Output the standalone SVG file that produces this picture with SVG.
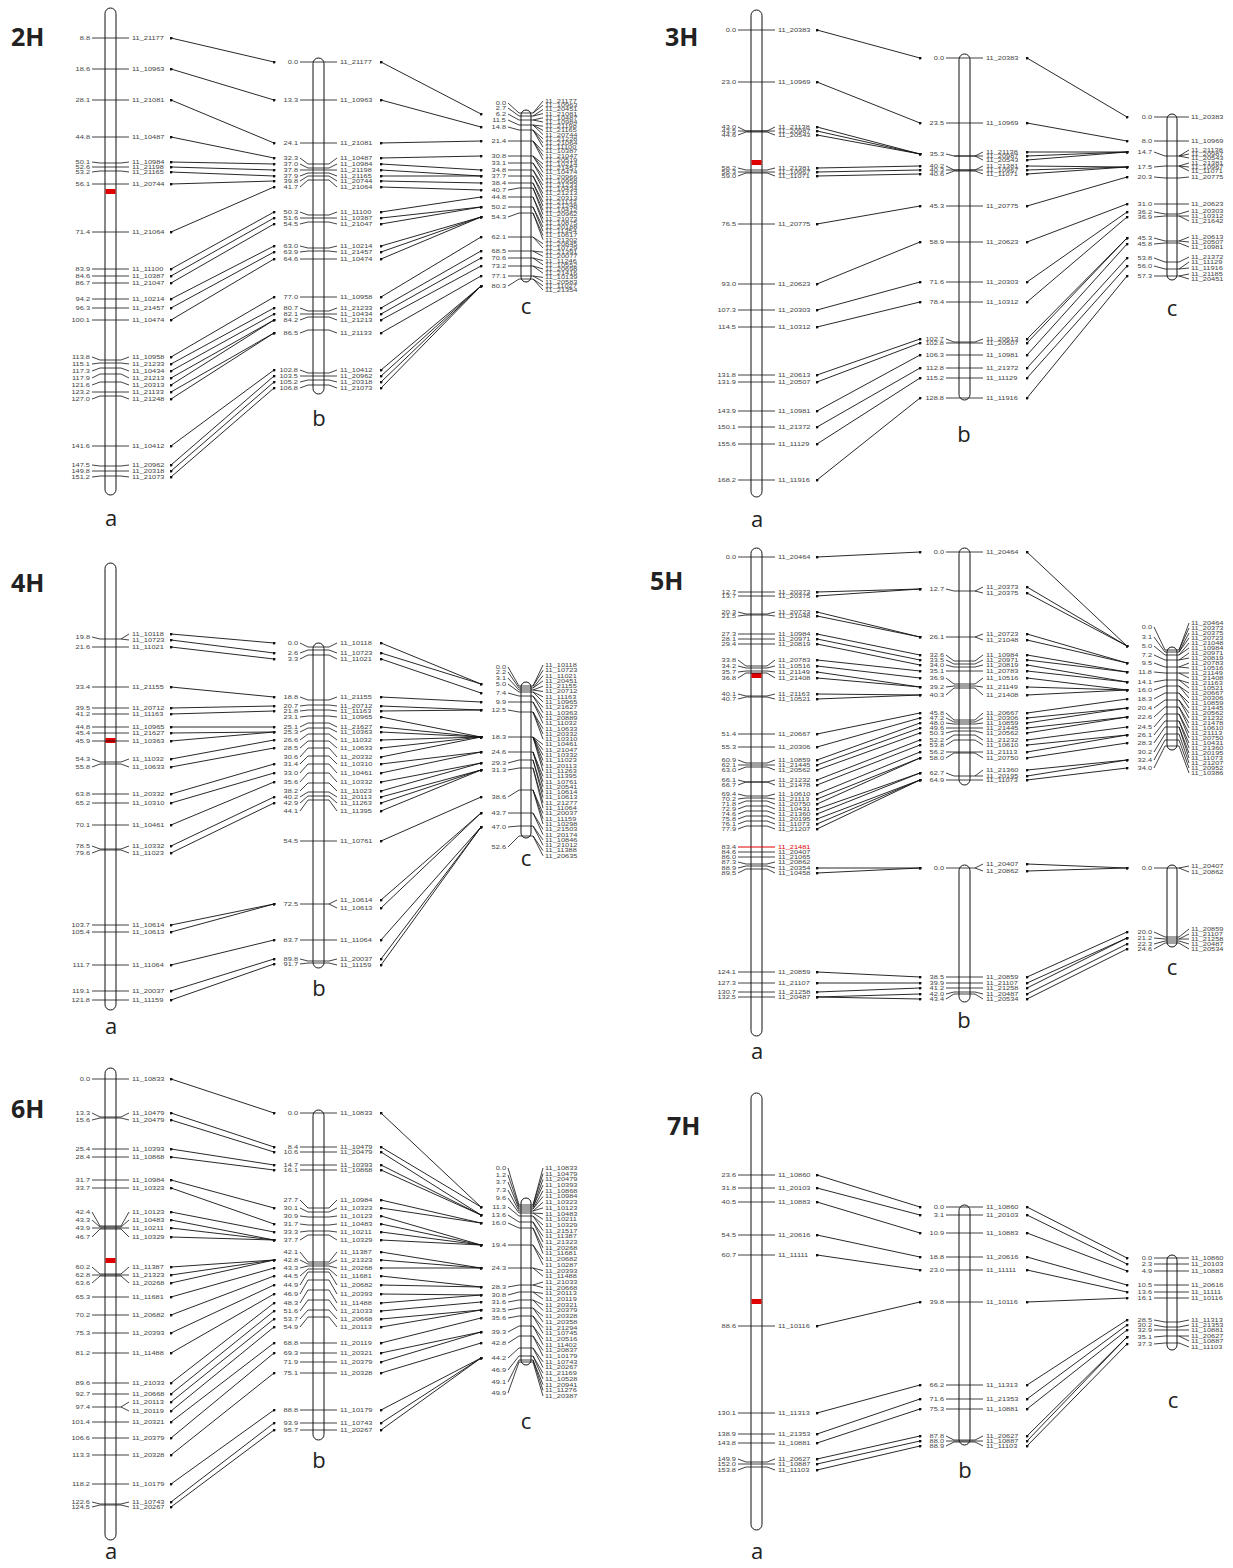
<svg xmlns="http://www.w3.org/2000/svg" width="1233" height="1568" viewBox="0 0 1233 1568">
<defs>
<style>
.chr{fill:#fff;stroke:#111;stroke-width:1}
.cen{fill:#e00000}
.tk{fill:none;stroke:#111;stroke-width:.8}
.tkr{fill:none;stroke:#e00000;stroke-width:1}
.cn{fill:none;stroke:#111;stroke-width:.9;marker-start:url(#d);marker-mid:url(#d);marker-end:url(#d)}
.lb{font-family:"Liberation Sans",Arial,sans-serif;font-size:5.5px;fill:#444}
.le{text-anchor:end}
.ttl{font-family:"Open Sans","Liberation Sans",sans-serif;font-weight:bold;font-size:25px;fill:#222}
.ab{font-family:"Open Sans","Liberation Sans",sans-serif;font-size:22px;text-anchor:middle;fill:#222}
</style>
<marker id="d" viewBox="0 0 4 4" refX="2" refY="2" markerWidth="3" markerHeight="3" markerUnits="userSpaceOnUse"><circle cx="2" cy="2" r="2" fill="#111"/></marker>
</defs>
<rect width="1233" height="1568" fill="#fff"/>

<g id="titles">
<text class="ttl" x="11" y="46">2H</text>
<text class="ttl" x="665" y="46">3H</text>
<text class="ttl" x="11" y="592">4H</text>
<text class="ttl" x="650" y="590">5H</text>
<text class="ttl" x="11" y="1118">6H</text>
<text class="ttl" x="667" y="1135">7H</text>
</g>

<g id="connectors">
<path class="cn" d="M171 38L274 62M171 69L274 100M171 100L274 143M171 137L274 158M171 162L274 164M171 167L274 170M171 172L274 176M171 184L274 181M171 232L274 187M171 269L274 212M171 276L274 218M171 283L274 224M171 299L274 246M171 308L274 252M171 320L274 259M171 357L274 297M171 364L274 308M171 371L274 314M171 378L274 320M171 385L274 320M171 392L274 333M171 399L274 333M171 446L274 370M171 465L274 376M171 471L274 382M171 477L274 388"/>
<path class="cn" d="M381 62L481 114M381 100L481 127M381 143L481 141M381 158L481 156M381 164L481 170M381 170L481 176M381 176L481 176M381 181L481 183M381 187L481 190M381 212L481 197M381 218L481 207M381 224L481 207M381 246L481 217M381 252L481 217M381 259L481 217M381 297L481 237M381 308L481 251M381 314L481 258M381 320L481 266M381 333L481 276M381 370L481 286M381 376L481 286M381 382L481 286M381 388L481 286"/>
<path class="cn" d="M817 30L920 58M817 82L920 123M817 127L920 154M817 131L920 154M817 135L920 154M817 168L920 166M817 172L920 170M817 176L920 174M817 224L920 206M817 284L920 242M817 310L920 282M817 327L920 302M817 375L920 339M817 382L920 343M817 411L920 355M817 427L920 368M817 444L920 378M817 480L920 398"/>
<path class="cn" d="M1027 58L1127 117M1027 123L1127 141M1027 152L1127 152M1027 156L1127 152M1027 160L1127 152M1027 166L1127 167M1027 170L1127 167M1027 174L1127 167M1027 206L1127 177M1027 242L1127 204M1027 282L1127 212M1027 302L1127 217M1027 339L1127 238M1027 343L1127 238M1027 355L1127 244M1027 368L1127 258M1027 378L1127 266M1027 398L1127 276"/>
<path class="cn" d="M171 634L274 643M171 640L274 653M171 647L274 659M171 687L274 697M171 708L274 706M171 714L274 711M171 727L274 727M171 733L274 732M171 741L274 732M171 759L274 740M171 767L274 748M171 794L274 764M171 803L274 773M171 825L274 782M171 846L274 797M171 853L274 803M171 925L274 904M171 932L274 904M171 965L274 940M171 991L274 959M171 1000L274 964"/>
<path class="cn" d="M381 643L481 684M381 653L481 684M381 659L481 693M381 697L481 702M381 706L481 710M381 711L481 710M381 717L481 737M381 727L481 737M381 732L481 737M381 740L481 737M381 748L481 737M381 757L481 737M381 764L481 752M381 773L481 752M381 782L481 763M381 791L481 763M381 797L481 770M381 803L481 770M381 811L481 770M381 841L481 797M381 900L481 813M381 908L481 813M381 940L481 827M381 959L481 827M381 965L481 827"/>
<path class="cn" d="M817 557L920 552M817 592L920 589M817 596L920 589M817 612L920 637M817 616L920 637M817 634L920 655M817 639L920 660M817 644L920 665M817 660L920 671M817 666L920 678M817 672L920 687M817 678L920 687M817 694L920 695M817 699L920 695M817 734L920 713M817 747L920 718M817 760L920 723M817 765L920 728M817 770L920 733M817 780L920 740M817 785L920 745M817 794L920 752M817 799L920 758M817 804L920 758M817 809L920 773M817 814L920 773M817 819L920 780M817 824L920 780M817 829L920 780M817 868L920 868M817 873L920 868M817 972L920 977M817 983L920 983M817 992L920 988M817 997L920 994M817 997L920 999"/>
<path class="cn" d="M1027 552L1127 646M1027 587L1127 646M1027 593L1127 646M1027 634L1127 663M1027 640L1127 663M1027 655L1127 672M1027 660L1127 672M1027 665L1127 682M1027 671L1127 682M1027 678L1127 690M1027 687L1127 690M1027 695L1127 690M1027 713L1127 699M1027 718L1127 708M1027 723L1127 708M1027 728L1127 717M1027 733L1127 717M1027 740L1127 727M1027 745L1127 735M1027 752L1127 735M1027 758L1127 743M1027 770L1127 760M1027 776L1127 760M1027 780L1127 768M1027 864L1127 868M1027 871L1127 868M1027 977L1127 932M1027 983L1127 938M1027 988L1127 938M1027 994L1127 944M1027 999L1127 949"/>
<path class="cn" d="M171 1079L274 1113M171 1113L274 1147M171 1120L274 1152M171 1149L274 1165M171 1157L274 1170M171 1180L274 1208M171 1188L274 1224M171 1212L274 1232M171 1220L274 1240M171 1228L274 1240M171 1237L274 1240M171 1267L274 1260M171 1275L274 1260M171 1283L274 1260M171 1297L274 1268M171 1315L274 1276M171 1333L274 1285M171 1353L274 1294M171 1383L274 1303M171 1394L274 1311M171 1402L274 1319M171 1411L274 1327M171 1422L274 1343M171 1438L274 1353M171 1455L274 1373M171 1484L274 1410M171 1502L274 1423M171 1507L274 1430"/>
<path class="cn" d="M381 1113L481 1207M381 1147L481 1207M381 1152L481 1215M381 1165L481 1215M381 1170L481 1215M381 1200L481 1223M381 1208L481 1223M381 1216L481 1245M381 1224L481 1245M381 1232L481 1245M381 1240L481 1245M381 1252L481 1268M381 1260L481 1268M381 1268L481 1268M381 1276L481 1287M381 1285L481 1287M381 1294L481 1295M381 1303L481 1295M381 1311L481 1302M381 1319L481 1310M381 1327L481 1310M381 1343L481 1318M381 1353L481 1332M381 1362L481 1332M381 1373L481 1343M381 1410L481 1358M381 1423L481 1358M381 1430L481 1358"/>
<path class="cn" d="M817 1175L920 1207M817 1188L920 1215M817 1202L920 1233M817 1235L920 1257M817 1255L920 1270M817 1326L920 1302M817 1413L920 1385M817 1434L920 1399M817 1443L920 1409M817 1459L920 1436M817 1464L920 1441M817 1470L920 1446"/>
<path class="cn" d="M1027 1207L1127 1258M1027 1215L1127 1264M1027 1233L1127 1271M1027 1257L1127 1285M1027 1270L1127 1292M1027 1302L1127 1298M1027 1385L1127 1320M1027 1399L1127 1325M1027 1409L1127 1330M1027 1436L1127 1337M1027 1441L1127 1337M1027 1446L1127 1344"/>
</g>

<!-- 2H -->
<g id="chr-2H-a">
<rect class="chr" x="105" y="8" width="11" height="487" rx="5.5"/>
<rect class="cen" x="105.5" y="189" width="10" height="5"/>
<path class="tk" d="M92 38H129M92 69H129M92 100H129M92 137H129M92 162L100 163H121L129 162M92 167H129M92 172L100 171H121L129 172M92 184H129M92 232H129M92 269H129M92 276H129M92 283H129M92 299H129M92 308H129M92 320H129M92 357L100 360H121L129 357M92 364L100 363H121L129 364M92 371L100 368H121L129 371M92 378L100 374H121L129 378M92 385L100 382H121L129 385M92 392H129M92 399L100 396H121L129 399M92 446H129M92 465L100 466H121L129 465M92 471H129M92 477L100 476H121L129 477"/>
<text class="lb le" transform="translate(90 2) scale(1.35 1)"><tspan x="0" y="38">8.8</tspan><tspan x="0" y="69">18.6</tspan><tspan x="0" y="100">28.1</tspan><tspan x="0" y="137">44.8</tspan><tspan x="0" y="162">50.1</tspan><tspan x="0" y="167">52.6</tspan><tspan x="0" y="172">53.2</tspan><tspan x="0" y="184">56.1</tspan><tspan x="0" y="232">71.4</tspan><tspan x="0" y="269">83.9</tspan><tspan x="0" y="276">84.6</tspan><tspan x="0" y="283">86.7</tspan><tspan x="0" y="299">94.2</tspan><tspan x="0" y="308">96.3</tspan><tspan x="0" y="320">100.1</tspan><tspan x="0" y="357">113.8</tspan><tspan x="0" y="364">115.1</tspan><tspan x="0" y="371">117.3</tspan><tspan x="0" y="378">117.9</tspan><tspan x="0" y="385">121.6</tspan><tspan x="0" y="392">123.2</tspan><tspan x="0" y="399">127.0</tspan><tspan x="0" y="446">141.6</tspan><tspan x="0" y="465">147.5</tspan><tspan x="0" y="471">149.8</tspan><tspan x="0" y="477">151.2</tspan></text>
<text class="lb" transform="translate(132 2) scale(1.35 1)"><tspan x="0" y="38">11_21177</tspan><tspan x="0" y="69">11_10963</tspan><tspan x="0" y="100">11_21081</tspan><tspan x="0" y="137">11_10487</tspan><tspan x="0" y="162">11_10984</tspan><tspan x="0" y="167">11_21198</tspan><tspan x="0" y="172">11_21165</tspan><tspan x="0" y="184">11_20744</tspan><tspan x="0" y="232">11_21064</tspan><tspan x="0" y="269">11_11100</tspan><tspan x="0" y="276">11_10387</tspan><tspan x="0" y="283">11_21047</tspan><tspan x="0" y="299">11_10214</tspan><tspan x="0" y="308">11_21457</tspan><tspan x="0" y="320">11_10474</tspan><tspan x="0" y="357">11_10958</tspan><tspan x="0" y="364">11_21233</tspan><tspan x="0" y="371">11_10434</tspan><tspan x="0" y="378">11_21213</tspan><tspan x="0" y="385">11_20313</tspan><tspan x="0" y="392">11_21133</tspan><tspan x="0" y="399">11_21248</tspan><tspan x="0" y="446">11_10412</tspan><tspan x="0" y="465">11_20962</tspan><tspan x="0" y="471">11_20318</tspan><tspan x="0" y="477">11_21073</tspan></text>
<text class="ab" x="111" y="526">a</text>
</g>
<g id="chr-2H-b">
<rect class="chr" x="313" y="58" width="11" height="336" rx="5.5"/>
<path class="tk" d="M300 62H337M300 100H337M300 143H337M300 158L308 164H329L337 158M300 164L308 168H329L337 164M300 170H337M300 176L308 173H329L337 176M300 181L308 176H329L337 181M300 187L308 180H329L337 187M300 212L308 215H329L337 212M300 218H337M300 224L308 222H329L337 224M300 246L308 248H329L337 246M300 252L308 251H329L337 252M300 259H337M300 297H337M300 308L308 311H329L337 308M300 314H337M300 320L308 317H329L337 320M300 333L308 330H329L337 333M300 370L308 373H329L337 370M300 376H337M300 382L308 380H329L337 382M300 388L308 385H329L337 388"/>
<text class="lb le" transform="translate(298 2) scale(1.35 1)"><tspan x="0" y="62">0.0</tspan><tspan x="0" y="100">13.3</tspan><tspan x="0" y="143">24.1</tspan><tspan x="0" y="158">32.3</tspan><tspan x="0" y="164">37.0</tspan><tspan x="0" y="170">37.8</tspan><tspan x="0" y="176">37.9</tspan><tspan x="0" y="181">39.8</tspan><tspan x="0" y="187">41.7</tspan><tspan x="0" y="212">50.3</tspan><tspan x="0" y="218">51.6</tspan><tspan x="0" y="224">54.5</tspan><tspan x="0" y="246">63.0</tspan><tspan x="0" y="252">63.9</tspan><tspan x="0" y="259">64.6</tspan><tspan x="0" y="297">77.0</tspan><tspan x="0" y="308">80.7</tspan><tspan x="0" y="314">82.1</tspan><tspan x="0" y="320">84.2</tspan><tspan x="0" y="333">86.5</tspan><tspan x="0" y="370">102.8</tspan><tspan x="0" y="376">103.5</tspan><tspan x="0" y="382">105.2</tspan><tspan x="0" y="388">106.8</tspan></text>
<text class="lb" transform="translate(340 2) scale(1.35 1)"><tspan x="0" y="62">11_21177</tspan><tspan x="0" y="100">11_10963</tspan><tspan x="0" y="143">11_21081</tspan><tspan x="0" y="158">11_10487</tspan><tspan x="0" y="164">11_10984</tspan><tspan x="0" y="170">11_21198</tspan><tspan x="0" y="176">11_21165</tspan><tspan x="0" y="181">11_20744</tspan><tspan x="0" y="187">11_21064</tspan><tspan x="0" y="212">11_11100</tspan><tspan x="0" y="218">11_10387</tspan><tspan x="0" y="224">11_21047</tspan><tspan x="0" y="246">11_10214</tspan><tspan x="0" y="252">11_21457</tspan><tspan x="0" y="259">11_10474</tspan><tspan x="0" y="297">11_10958</tspan><tspan x="0" y="308">11_21233</tspan><tspan x="0" y="314">11_10434</tspan><tspan x="0" y="320">11_21213</tspan><tspan x="0" y="333">11_21133</tspan><tspan x="0" y="370">11_10412</tspan><tspan x="0" y="376">11_20962</tspan><tspan x="0" y="382">11_20318</tspan><tspan x="0" y="388">11_21073</tspan></text>
<text class="ab" x="319" y="426">b</text>
</g>
<g id="chr-2H-c">
<rect class="chr" x="521" y="110" width="10" height="172" rx="5"/>
<path class="tk" d="M508 103L519 113H533M508 108L519 116H533M508 114L519 120H533M508 120L519 125H533M508 127L519 130H533M508 141H533M508 156H533M508 163H533M508 170H533M508 176H533M508 183H533M508 190L519 188H533M508 197H533M508 207H533M508 217L519 213H533M508 237H533M508 251H533M508 258H533M508 266H533M508 276H533M508 286L519 279H533M533 113L543 101M533 113L543 105.2M533 116L543 109.4M533 116L543 113.6M533 120L543 117.8M533 120L543 122M533 125L543 126.2M533 125L543 130.4M533 125L543 134.6M533 130L543 138.8M533 130L543 143M533 130L543 147.2M533 141L543 151.4M533 141L543 155.6M533 141L543 159.8M533 156L543 164M533 156L543 168.2M533 156L543 172.4M533 163L543 176.6M533 163L543 180.8M533 170L543 185M533 170L543 189.2M533 176L543 193.4M533 176L543 197.6M533 183L543 201.8M533 183L543 206M533 188L543 210.2M533 188L543 214.4M533 197L543 218.6M533 197L543 222.8M533 207L543 227M533 207L543 231.2M533 213L543 235.4M533 213L543 239.6M533 237L543 243.8M533 237L543 248M533 251L543 252.2M533 251L543 256.4M533 258L543 260.6M533 258L543 264.8M533 266L543 269M533 266L543 273.2M533 276L543 277.4M533 276L543 281.6M533 279L543 285.8M533 279L543 290"/>
<text class="lb le" transform="translate(506 2) scale(1.35 1)"><tspan x="0" y="103">0.0</tspan><tspan x="0" y="108">2.7</tspan><tspan x="0" y="114">6.2</tspan><tspan x="0" y="120">11.5</tspan><tspan x="0" y="127">14.8</tspan><tspan x="0" y="141">21.4</tspan><tspan x="0" y="156">30.8</tspan><tspan x="0" y="163">33.1</tspan><tspan x="0" y="170">34.8</tspan><tspan x="0" y="176">37.7</tspan><tspan x="0" y="183">38.4</tspan><tspan x="0" y="190">40.7</tspan><tspan x="0" y="197">44.8</tspan><tspan x="0" y="207">50.2</tspan><tspan x="0" y="217">54.3</tspan><tspan x="0" y="237">62.1</tspan><tspan x="0" y="251">68.5</tspan><tspan x="0" y="258">70.6</tspan><tspan x="0" y="266">73.2</tspan><tspan x="0" y="276">77.1</tspan><tspan x="0" y="286">80.3</tspan></text>
<text class="lb" transform="translate(545 2) scale(1.35 1)"><tspan x="0" y="101">11_21177</tspan><tspan x="0" y="105.2">11_10963</tspan><tspan x="0" y="109.4">11_20451</tspan><tspan x="0" y="113.6">11_21081</tspan><tspan x="0" y="117.8">11_10487</tspan><tspan x="0" y="122">11_10984</tspan><tspan x="0" y="126.2">11_21198</tspan><tspan x="0" y="130.4">11_21165</tspan><tspan x="0" y="134.6">11_20744</tspan><tspan x="0" y="138.8">11_21228</tspan><tspan x="0" y="143">11_21064</tspan><tspan x="0" y="147.2">11_11100</tspan><tspan x="0" y="151.4">11_10387</tspan><tspan x="0" y="155.6">11_21047</tspan><tspan x="0" y="159.8">11_20519</tspan><tspan x="0" y="164">11_10214</tspan><tspan x="0" y="168.2">11_21457</tspan><tspan x="0" y="172.4">11_10474</tspan><tspan x="0" y="176.6">11_20966</tspan><tspan x="0" y="180.8">11_10958</tspan><tspan x="0" y="185">11_21233</tspan><tspan x="0" y="189.2">11_10434</tspan><tspan x="0" y="193.4">11_21213</tspan><tspan x="0" y="197.6">11_20313</tspan><tspan x="0" y="201.8">11_21133</tspan><tspan x="0" y="206">11_21248</tspan><tspan x="0" y="210.2">11_10412</tspan><tspan x="0" y="214.4">11_20962</tspan><tspan x="0" y="218.6">11_21073</tspan><tspan x="0" y="222.8">11_10875</tspan><tspan x="0" y="227">11_20188</tspan><tspan x="0" y="231.2">11_11354</tspan><tspan x="0" y="235.4">11_10617</tspan><tspan x="0" y="239.6">11_21302</tspan><tspan x="0" y="243.8">11_20845</tspan><tspan x="0" y="248">11_10729</tspan><tspan x="0" y="252.2">11_21391</tspan><tspan x="0" y="256.4">11_20077</tspan><tspan x="0" y="260.6">11_11246</tspan><tspan x="0" y="264.8">11_10552</tspan><tspan x="0" y="269">11_20698</tspan><tspan x="0" y="273.2">11_21416</tspan><tspan x="0" y="277.4">11_10139</tspan><tspan x="0" y="281.6">11_20583</tspan><tspan x="0" y="285.8">11_11027</tspan><tspan x="0" y="290">11_21354</tspan></text>
<text class="ab" x="526" y="314">c</text>
</g>

<!-- 3H -->
<g id="chr-3H-a">
<rect class="chr" x="751" y="10" width="11" height="487" rx="5.5"/>
<rect class="cen" x="751.5" y="160" width="10" height="5"/>
<path class="tk" d="M738 30H775M738 82H775M738 127L746 131H767L775 127M738 131H775M738 135L746 132H767L775 135M738 168L746 170H767L775 168M738 172H775M738 176L746 173H767L775 176M738 224H775M738 284H775M738 310H775M738 327H775M738 375H775M738 382H775M738 411H775M738 427H775M738 444H775M738 480H775"/>
<text class="lb le" transform="translate(736 2) scale(1.35 1)"><tspan x="0" y="30">0.0</tspan><tspan x="0" y="82">23.0</tspan><tspan x="0" y="127">43.0</tspan><tspan x="0" y="131">43.5</tspan><tspan x="0" y="135">44.6</tspan><tspan x="0" y="168">58.2</tspan><tspan x="0" y="172">58.3</tspan><tspan x="0" y="176">59.0</tspan><tspan x="0" y="224">76.5</tspan><tspan x="0" y="284">93.0</tspan><tspan x="0" y="310">107.3</tspan><tspan x="0" y="327">114.5</tspan><tspan x="0" y="375">131.8</tspan><tspan x="0" y="382">131.9</tspan><tspan x="0" y="411">143.9</tspan><tspan x="0" y="427">150.1</tspan><tspan x="0" y="444">155.6</tspan><tspan x="0" y="480">168.2</tspan></text>
<text class="lb" transform="translate(778 2) scale(1.35 1)"><tspan x="0" y="30">11_20383</tspan><tspan x="0" y="82">11_10969</tspan><tspan x="0" y="127">11_21138</tspan><tspan x="0" y="131">11_20987</tspan><tspan x="0" y="135">11_20543</tspan><tspan x="0" y="168">11_21381</tspan><tspan x="0" y="172">11_10967</tspan><tspan x="0" y="176">11_11071</tspan><tspan x="0" y="224">11_20775</tspan><tspan x="0" y="284">11_20623</tspan><tspan x="0" y="310">11_20303</tspan><tspan x="0" y="327">11_10312</tspan><tspan x="0" y="375">11_20613</tspan><tspan x="0" y="382">11_20507</tspan><tspan x="0" y="411">11_10981</tspan><tspan x="0" y="427">11_21372</tspan><tspan x="0" y="444">11_11129</tspan><tspan x="0" y="480">11_11916</tspan></text>
<text class="ab" x="757" y="527">a</text>
</g>
<g id="chr-3H-b">
<rect class="chr" x="959" y="54" width="11" height="346" rx="5.5"/>
<path class="tk" d="M946 58H983M946 123H983M946 154L954 156H975L983 152M954 156H975L983 156M975 156L983 160M946 166L954 170H975L983 166M946 170H983M946 174L954 171H975L983 174M946 206H983M946 242H983M946 282H983M946 302H983M946 339L954 342H975L983 339M946 343H983M946 355H983M946 368H983M946 378H983M946 398H983"/>
<text class="lb le" transform="translate(944 2) scale(1.35 1)"><tspan x="0" y="58">0.0</tspan><tspan x="0" y="123">23.5</tspan><tspan x="0" y="154">35.3</tspan><tspan x="0" y="166">40.2</tspan><tspan x="0" y="170">40.3</tspan><tspan x="0" y="174">40.6</tspan><tspan x="0" y="206">45.3</tspan><tspan x="0" y="242">58.9</tspan><tspan x="0" y="282">71.6</tspan><tspan x="0" y="302">78.4</tspan><tspan x="0" y="339">102.7</tspan><tspan x="0" y="343">102.8</tspan><tspan x="0" y="355">106.3</tspan><tspan x="0" y="368">112.8</tspan><tspan x="0" y="378">115.2</tspan><tspan x="0" y="398">128.8</tspan></text>
<text class="lb" transform="translate(986 2) scale(1.35 1)"><tspan x="0" y="58">11_20383</tspan><tspan x="0" y="123">11_10969</tspan><tspan x="0" y="152">11_21138</tspan><tspan x="0" y="156">11_20987</tspan><tspan x="0" y="160">11_20543</tspan><tspan x="0" y="166">11_21381</tspan><tspan x="0" y="170">11_10967</tspan><tspan x="0" y="174">11_11071</tspan><tspan x="0" y="206">11_20775</tspan><tspan x="0" y="242">11_20623</tspan><tspan x="0" y="282">11_20303</tspan><tspan x="0" y="302">11_10312</tspan><tspan x="0" y="339">11_20613</tspan><tspan x="0" y="343">11_20507</tspan><tspan x="0" y="355">11_10981</tspan><tspan x="0" y="368">11_21372</tspan><tspan x="0" y="378">11_11129</tspan><tspan x="0" y="398">11_11916</tspan></text>
<text class="ab" x="964" y="442">b</text>
</g>
<g id="chr-3H-c">
<rect class="chr" x="1167" y="114" width="10" height="166" rx="5"/>
<path class="tk" d="M1154 117H1189M1154 141H1189M1154 152L1165 156H1179L1189 150M1179 156L1189 154M1179 156L1189 158M1154 167L1165 166H1179L1189 163M1179 166L1189 167M1179 166L1189 171M1154 177L1165 178H1179L1189 177M1154 204H1189M1154 212L1165 214H1179L1189 211M1154 217L1165 216H1179L1189 216M1179 216L1189 221M1154 238L1165 241H1179L1189 237M1179 241L1189 242M1154 244L1165 243H1179L1189 247M1154 258L1165 262H1179L1189 257M1154 266L1165 269H1179L1189 262M1179 269L1189 268M1154 276H1179L1189 274M1179 276L1189 279"/>
<text class="lb le" transform="translate(1152 2) scale(1.35 1)"><tspan x="0" y="117">0.0</tspan><tspan x="0" y="141">8.0</tspan><tspan x="0" y="152">14.7</tspan><tspan x="0" y="167">17.5</tspan><tspan x="0" y="177">20.3</tspan><tspan x="0" y="204">31.0</tspan><tspan x="0" y="212">36.2</tspan><tspan x="0" y="217">36.9</tspan><tspan x="0" y="238">45.3</tspan><tspan x="0" y="244">45.8</tspan><tspan x="0" y="258">53.8</tspan><tspan x="0" y="266">56.0</tspan><tspan x="0" y="276">57.3</tspan></text>
<text class="lb" transform="translate(1191 2) scale(1.35 1)"><tspan x="0" y="117">11_20383</tspan><tspan x="0" y="141">11_10969</tspan><tspan x="0" y="150">11_21138</tspan><tspan x="0" y="154">11_20987</tspan><tspan x="0" y="158">11_20543</tspan><tspan x="0" y="163">11_21381</tspan><tspan x="0" y="167">11_10967</tspan><tspan x="0" y="171">11_11071</tspan><tspan x="0" y="177">11_20775</tspan><tspan x="0" y="204">11_20623</tspan><tspan x="0" y="211">11_20303</tspan><tspan x="0" y="216">11_10312</tspan><tspan x="0" y="221">11_21642</tspan><tspan x="0" y="237">11_20613</tspan><tspan x="0" y="242">11_20507</tspan><tspan x="0" y="247">11_10981</tspan><tspan x="0" y="257">11_21372</tspan><tspan x="0" y="262">11_11129</tspan><tspan x="0" y="268">11_11916</tspan><tspan x="0" y="274">11_21185</tspan><tspan x="0" y="279">11_20451</tspan></text>
<text class="ab" x="1172" y="316">c</text>
</g>

<!-- 4H -->
<g id="chr-4H-a">
<rect class="chr" x="105" y="563" width="11" height="447" rx="5.5"/>
<rect class="cen" x="105.5" y="738" width="10" height="5"/>
<path class="tk" d="M92 637L100 639H121L129 634M121 639L129 640M92 647H129M92 687H129M92 708H129M92 714H129M92 727H129M92 733H129M92 741H129M92 759L100 762H121L129 759M92 767L100 764H121L129 767M92 794H129M92 803H129M92 825H129M92 846L100 849H121L129 846M92 853L100 850H121L129 853M92 925H129M92 932H129M92 965H129M92 991H129M92 1000H129"/>
<text class="lb le" transform="translate(90 2) scale(1.35 1)"><tspan x="0" y="637">19.8</tspan><tspan x="0" y="647">21.6</tspan><tspan x="0" y="687">33.4</tspan><tspan x="0" y="708">39.5</tspan><tspan x="0" y="714">41.2</tspan><tspan x="0" y="727">44.8</tspan><tspan x="0" y="733">45.4</tspan><tspan x="0" y="741">45.9</tspan><tspan x="0" y="759">54.3</tspan><tspan x="0" y="767">55.8</tspan><tspan x="0" y="794">63.8</tspan><tspan x="0" y="803">65.2</tspan><tspan x="0" y="825">70.1</tspan><tspan x="0" y="846">78.5</tspan><tspan x="0" y="853">79.6</tspan><tspan x="0" y="925">103.7</tspan><tspan x="0" y="932">105.4</tspan><tspan x="0" y="965">111.7</tspan><tspan x="0" y="991">119.1</tspan><tspan x="0" y="1000">121.8</tspan></text>
<text class="lb" transform="translate(132 2) scale(1.35 1)"><tspan x="0" y="634">11_10118</tspan><tspan x="0" y="640">11_10723</tspan><tspan x="0" y="647">11_11021</tspan><tspan x="0" y="687">11_21155</tspan><tspan x="0" y="708">11_20712</tspan><tspan x="0" y="714">11_11163</tspan><tspan x="0" y="727">11_10965</tspan><tspan x="0" y="733">11_21627</tspan><tspan x="0" y="741">11_10363</tspan><tspan x="0" y="759">11_11032</tspan><tspan x="0" y="767">11_10633</tspan><tspan x="0" y="794">11_20332</tspan><tspan x="0" y="803">11_10310</tspan><tspan x="0" y="825">11_10461</tspan><tspan x="0" y="846">11_10332</tspan><tspan x="0" y="853">11_11023</tspan><tspan x="0" y="925">11_10614</tspan><tspan x="0" y="932">11_10613</tspan><tspan x="0" y="965">11_11064</tspan><tspan x="0" y="991">11_20037</tspan><tspan x="0" y="1000">11_11159</tspan></text>
<text class="ab" x="111" y="1034">a</text>
</g>
<g id="chr-4H-b">
<rect class="chr" x="313" y="643" width="11" height="325" rx="5.5"/>
<path class="tk" d="M300 643L308 647H329L337 643M300 653L308 650H329L337 653M300 659L308 655H329L337 659M300 697L308 700H329L337 697M300 706L308 705H329L337 706M300 711L308 710H329L337 711M300 717L308 716H329L337 717M300 727L308 723H329L337 727M300 732L308 728H329L337 732M300 740L308 734H329L337 740M300 748L308 741H329L337 748M300 757L308 748H329L337 757M300 764L308 756H329L337 764M300 773L308 764H329L337 773M300 782L308 773H329L337 782M300 791L308 783H329L337 791M300 797L308 792H329L337 797M300 803L308 796H329L337 803M300 811L308 800H329L337 811M300 841H337M300 904H329L337 900M329 904L337 908M300 940H337M300 959L308 961H329L337 959M300 964L308 963H329L337 965"/>
<text class="lb le" transform="translate(298 2) scale(1.35 1)"><tspan x="0" y="643">0.0</tspan><tspan x="0" y="653">2.6</tspan><tspan x="0" y="659">3.3</tspan><tspan x="0" y="697">18.8</tspan><tspan x="0" y="706">20.7</tspan><tspan x="0" y="711">21.8</tspan><tspan x="0" y="717">23.1</tspan><tspan x="0" y="727">25.1</tspan><tspan x="0" y="732">25.3</tspan><tspan x="0" y="740">26.6</tspan><tspan x="0" y="748">28.5</tspan><tspan x="0" y="757">30.6</tspan><tspan x="0" y="764">31.4</tspan><tspan x="0" y="773">33.0</tspan><tspan x="0" y="782">35.6</tspan><tspan x="0" y="791">38.2</tspan><tspan x="0" y="797">40.2</tspan><tspan x="0" y="803">42.9</tspan><tspan x="0" y="811">44.1</tspan><tspan x="0" y="841">54.5</tspan><tspan x="0" y="904">72.5</tspan><tspan x="0" y="940">83.7</tspan><tspan x="0" y="959">89.8</tspan><tspan x="0" y="964">91.7</tspan></text>
<text class="lb" transform="translate(340 2) scale(1.35 1)"><tspan x="0" y="643">11_10118</tspan><tspan x="0" y="653">11_10723</tspan><tspan x="0" y="659">11_11021</tspan><tspan x="0" y="697">11_21155</tspan><tspan x="0" y="706">11_20712</tspan><tspan x="0" y="711">11_11163</tspan><tspan x="0" y="717">11_10965</tspan><tspan x="0" y="727">11_21627</tspan><tspan x="0" y="732">11_10363</tspan><tspan x="0" y="740">11_11032</tspan><tspan x="0" y="748">11_10633</tspan><tspan x="0" y="757">11_20332</tspan><tspan x="0" y="764">11_10310</tspan><tspan x="0" y="773">11_10461</tspan><tspan x="0" y="782">11_10332</tspan><tspan x="0" y="791">11_11023</tspan><tspan x="0" y="797">11_20113</tspan><tspan x="0" y="803">11_11263</tspan><tspan x="0" y="811">11_11395</tspan><tspan x="0" y="841">11_10761</tspan><tspan x="0" y="900">11_10614</tspan><tspan x="0" y="908">11_10613</tspan><tspan x="0" y="940">11_11064</tspan><tspan x="0" y="959">11_20037</tspan><tspan x="0" y="965">11_11159</tspan></text>
<text class="ab" x="319" y="996">b</text>
</g>
<g id="chr-4H-c">
<rect class="chr" x="521" y="682" width="10" height="156" rx="5"/>
<path class="tk" d="M508 667L519 686H533M508 672L519 688H533M508 678L519 690H533M508 684L519 692H533M508 693L519 696H533M508 702H533M508 710L519 712H533M508 737H533M508 752H533M508 763L519 760H533M508 770L519 768H533M508 797L519 790H533M508 813H533M508 827L519 826H533M508 847L519 836H533M533 686L543 665M533 686L543 670.3M533 688L543 675.6M533 688L543 680.9M533 690L543 686.2M533 690L543 691.5M533 692L543 696.8M533 692L543 702.1M533 696L543 707.4M533 696L543 712.7M533 702L543 718M533 702L543 723.3M533 712L543 728.6M533 712L543 733.9M533 712L543 739.2M533 737L543 744.5M533 737L543 749.8M533 737L543 755.1M533 737L543 760.4M533 737L543 765.7M533 737L543 771M533 752L543 776.3M533 752L543 781.6M533 752L543 786.9M533 760L543 792.2M533 760L543 797.5M533 768L543 802.8M533 768L543 808.1M533 790L543 813.4M533 790L543 818.7M533 790L543 824M533 813L543 829.3M533 813L543 834.6M533 826L543 839.9M533 826L543 845.2M533 836L543 850.5M533 836L543 855.8"/>
<text class="lb le" transform="translate(506 2) scale(1.35 1)"><tspan x="0" y="667">0.0</tspan><tspan x="0" y="672">2.2</tspan><tspan x="0" y="678">3.1</tspan><tspan x="0" y="684">5.0</tspan><tspan x="0" y="693">7.4</tspan><tspan x="0" y="702">9.9</tspan><tspan x="0" y="710">12.5</tspan><tspan x="0" y="737">18.3</tspan><tspan x="0" y="752">24.6</tspan><tspan x="0" y="763">29.3</tspan><tspan x="0" y="770">31.3</tspan><tspan x="0" y="797">38.6</tspan><tspan x="0" y="813">43.7</tspan><tspan x="0" y="827">47.0</tspan><tspan x="0" y="847">52.6</tspan></text>
<text class="lb" transform="translate(545 2) scale(1.35 1)"><tspan x="0" y="665">11_10118</tspan><tspan x="0" y="670.3">11_10723</tspan><tspan x="0" y="675.6">11_11021</tspan><tspan x="0" y="680.9">11_20451</tspan><tspan x="0" y="686.2">11_21155</tspan><tspan x="0" y="691.5">11_20712</tspan><tspan x="0" y="696.8">11_11163</tspan><tspan x="0" y="702.1">11_10965</tspan><tspan x="0" y="707.4">11_21627</tspan><tspan x="0" y="712.7">11_10363</tspan><tspan x="0" y="718">11_20889</tspan><tspan x="0" y="723.3">11_11032</tspan><tspan x="0" y="728.6">11_10633</tspan><tspan x="0" y="733.9">11_20332</tspan><tspan x="0" y="739.2">11_10310</tspan><tspan x="0" y="744.5">11_10461</tspan><tspan x="0" y="749.8">11_21047</tspan><tspan x="0" y="755.1">11_10332</tspan><tspan x="0" y="760.4">11_11023</tspan><tspan x="0" y="765.7">11_20113</tspan><tspan x="0" y="771">11_11263</tspan><tspan x="0" y="776.3">11_11395</tspan><tspan x="0" y="781.6">11_10761</tspan><tspan x="0" y="786.9">11_20541</tspan><tspan x="0" y="792.2">11_10614</tspan><tspan x="0" y="797.5">11_10613</tspan><tspan x="0" y="802.8">11_21277</tspan><tspan x="0" y="808.1">11_11064</tspan><tspan x="0" y="813.4">11_20037</tspan><tspan x="0" y="818.7">11_11159</tspan><tspan x="0" y="824">11_10298</tspan><tspan x="0" y="829.3">11_21503</tspan><tspan x="0" y="834.6">11_20174</tspan><tspan x="0" y="839.9">11_10846</tspan><tspan x="0" y="845.2">11_21012</tspan><tspan x="0" y="850.5">11_11388</tspan><tspan x="0" y="855.8">11_20635</tspan></text>
<text class="ab" x="526" y="866">c</text>
</g>

<!-- 5H -->
<g id="chr-5H-a">
<rect class="chr" x="751" y="548" width="11" height="488" rx="5.5"/>
<rect class="cen" x="751.5" y="673" width="10" height="5"/>
<path class="tk" d="M738 557H775M738 592H775M738 596H775M738 612L746 614H767L775 612M738 616L746 615H767L775 616M738 634H775M738 639H775M738 644H775M738 660L746 666H767L775 660M738 666L746 668H767L775 666M738 672L746 671H767L775 672M738 678L746 673H767L775 678M738 694L746 696H767L775 694M738 699L746 697H767L775 699M738 734H775M738 747H775M738 760L746 763H767L775 760M738 765H775M738 770L746 767H767L775 770M738 780L746 782H767L775 780M738 785L746 782H767L775 785M738 794L746 796H767L775 794M738 799L746 798H767L775 799M738 804L746 801H767L775 804M738 809L746 806H767L775 809M738 814L746 811H767L775 814M738 819L746 816H767L775 819M738 824L746 821H767L775 824M738 829L746 826H767L775 829M738 852H775M738 857H775M738 862L746 864H767L775 862M738 868L746 866H767L775 868M738 873L746 869H767L775 873M738 972H775M738 983H775M738 992H775M738 997H775"/>
<path class="tkr" d="M738 847H775"/>
<text class="lb le" transform="translate(736 2) scale(1.35 1)"><tspan x="0" y="557">0.0</tspan><tspan x="0" y="592">12.7</tspan><tspan x="0" y="596">13.7</tspan><tspan x="0" y="612">20.3</tspan><tspan x="0" y="616">21.5</tspan><tspan x="0" y="634">27.3</tspan><tspan x="0" y="639">28.1</tspan><tspan x="0" y="644">29.4</tspan><tspan x="0" y="660">33.8</tspan><tspan x="0" y="666">34.2</tspan><tspan x="0" y="672">35.7</tspan><tspan x="0" y="678">36.8</tspan><tspan x="0" y="694">40.1</tspan><tspan x="0" y="699">40.7</tspan><tspan x="0" y="734">51.4</tspan><tspan x="0" y="747">55.3</tspan><tspan x="0" y="760">60.9</tspan><tspan x="0" y="765">62.1</tspan><tspan x="0" y="770">63.0</tspan><tspan x="0" y="780">66.1</tspan><tspan x="0" y="785">66.7</tspan><tspan x="0" y="794">69.4</tspan><tspan x="0" y="799">70.2</tspan><tspan x="0" y="804">71.8</tspan><tspan x="0" y="809">72.9</tspan><tspan x="0" y="814">74.6</tspan><tspan x="0" y="819">75.8</tspan><tspan x="0" y="824">76.1</tspan><tspan x="0" y="829">77.9</tspan><tspan x="0" y="847">83.4</tspan><tspan x="0" y="852">84.6</tspan><tspan x="0" y="857">86.0</tspan><tspan x="0" y="862">87.3</tspan><tspan x="0" y="868">88.9</tspan><tspan x="0" y="873">89.5</tspan><tspan x="0" y="972">124.1</tspan><tspan x="0" y="983">127.3</tspan><tspan x="0" y="992">130.7</tspan><tspan x="0" y="997">132.5</tspan></text>
<text class="lb" transform="translate(778 2) scale(1.35 1)"><tspan x="0" y="557">11_20464</tspan><tspan x="0" y="592">11_20373</tspan><tspan x="0" y="596">11_20375</tspan><tspan x="0" y="612">11_20723</tspan><tspan x="0" y="616">11_21048</tspan><tspan x="0" y="634">11_10984</tspan><tspan x="0" y="639">11_20971</tspan><tspan x="0" y="644">11_20819</tspan><tspan x="0" y="660">11_20783</tspan><tspan x="0" y="666">11_10516</tspan><tspan x="0" y="672">11_21149</tspan><tspan x="0" y="678">11_21408</tspan><tspan x="0" y="694">11_21163</tspan><tspan x="0" y="699">11_10521</tspan><tspan x="0" y="734">11_20667</tspan><tspan x="0" y="747">11_20306</tspan><tspan x="0" y="760">11_10859</tspan><tspan x="0" y="765">11_21445</tspan><tspan x="0" y="770">11_20562</tspan><tspan x="0" y="780">11_21232</tspan><tspan x="0" y="785">11_21478</tspan><tspan x="0" y="794">11_10610</tspan><tspan x="0" y="799">11_21113</tspan><tspan x="0" y="804">11_20750</tspan><tspan x="0" y="809">11_10431</tspan><tspan x="0" y="814">11_21360</tspan><tspan x="0" y="819">11_20195</tspan><tspan x="0" y="824">11_11073</tspan><tspan x="0" y="829">11_21207</tspan><tspan x="0" y="847" fill="#e00000">11_21481</tspan><tspan x="0" y="852">11_20407</tspan><tspan x="0" y="857">11_21065</tspan><tspan x="0" y="862">11_20862</tspan><tspan x="0" y="868">11_20354</tspan><tspan x="0" y="873">11_10458</tspan><tspan x="0" y="972">11_20859</tspan><tspan x="0" y="983">11_21107</tspan><tspan x="0" y="992">11_21258</tspan><tspan x="0" y="997">11_20487</tspan></text>
<text class="ab" x="757" y="1059">a</text>
</g>
<g id="chr-5H-b">
<rect class="chr" x="959" y="548" width="11" height="237" rx="5.5"/>
<rect class="chr" x="959" y="865" width="11" height="137" rx="5.5"/>
<path class="tk" d="M946 552H983M946 589L954 591H975L983 587M975 591L983 593M946 637H975L983 634M975 637L983 640M946 655L954 661H975L983 655M946 660L954 664H975L983 660M946 665L954 667H975L983 665M946 671H983M946 678L954 684H975L983 678M946 687L954 686H975L983 687M946 695L954 688H975L983 695M946 713L954 720H975L983 713M946 718L954 722H975L983 718M946 723L954 724H975L983 723M946 728H983M946 733L954 731H975L983 733M946 740L954 735H975L983 740M946 745L954 740H975L983 745M946 752H983M946 758L954 753H975L983 758M946 773L954 776H975L983 770M975 776L983 776M946 780H983M946 868H975L983 864M975 868L983 871M946 977H983M946 983H983M946 988H983M946 994L954 992H975L983 994M946 999L954 994H975L983 999"/>
<text class="lb le" transform="translate(944 2) scale(1.35 1)"><tspan x="0" y="552">0.0</tspan><tspan x="0" y="589">12.7</tspan><tspan x="0" y="637">26.1</tspan><tspan x="0" y="655">32.6</tspan><tspan x="0" y="660">33.5</tspan><tspan x="0" y="665">34.0</tspan><tspan x="0" y="671">35.1</tspan><tspan x="0" y="678">36.9</tspan><tspan x="0" y="687">39.2</tspan><tspan x="0" y="695">40.3</tspan><tspan x="0" y="713">45.8</tspan><tspan x="0" y="718">47.2</tspan><tspan x="0" y="723">48.0</tspan><tspan x="0" y="728">49.6</tspan><tspan x="0" y="733">50.3</tspan><tspan x="0" y="740">52.2</tspan><tspan x="0" y="745">53.8</tspan><tspan x="0" y="752">56.2</tspan><tspan x="0" y="758">58.0</tspan><tspan x="0" y="773">62.7</tspan><tspan x="0" y="780">64.9</tspan><tspan x="0" y="868">0.0</tspan><tspan x="0" y="977">38.5</tspan><tspan x="0" y="983">39.9</tspan><tspan x="0" y="988">41.2</tspan><tspan x="0" y="994">42.0</tspan><tspan x="0" y="999">43.4</tspan></text>
<text class="lb" transform="translate(986 2) scale(1.35 1)"><tspan x="0" y="552">11_20464</tspan><tspan x="0" y="587">11_20373</tspan><tspan x="0" y="593">11_20375</tspan><tspan x="0" y="634">11_20723</tspan><tspan x="0" y="640">11_21048</tspan><tspan x="0" y="655">11_10984</tspan><tspan x="0" y="660">11_20971</tspan><tspan x="0" y="665">11_20819</tspan><tspan x="0" y="671">11_20783</tspan><tspan x="0" y="678">11_10516</tspan><tspan x="0" y="687">11_21149</tspan><tspan x="0" y="695">11_21408</tspan><tspan x="0" y="713">11_20667</tspan><tspan x="0" y="718">11_20306</tspan><tspan x="0" y="723">11_10859</tspan><tspan x="0" y="728">11_21445</tspan><tspan x="0" y="733">11_20562</tspan><tspan x="0" y="740">11_21232</tspan><tspan x="0" y="745">11_10610</tspan><tspan x="0" y="752">11_21113</tspan><tspan x="0" y="758">11_20750</tspan><tspan x="0" y="770">11_21360</tspan><tspan x="0" y="776">11_20195</tspan><tspan x="0" y="780">11_11073</tspan><tspan x="0" y="864">11_20407</tspan><tspan x="0" y="871">11_20862</tspan><tspan x="0" y="977">11_20859</tspan><tspan x="0" y="983">11_21107</tspan><tspan x="0" y="988">11_21258</tspan><tspan x="0" y="994">11_20487</tspan><tspan x="0" y="999">11_20534</tspan></text>
<text class="ab" x="964" y="1028">b</text>
</g>
<g id="chr-5H-c">
<rect class="chr" x="1167" y="647" width="10" height="103" rx="5"/>
<rect class="chr" x="1167" y="865" width="10" height="82" rx="5"/>
<path class="tk" d="M1154 627L1165 650H1179M1154 637L1165 652H1179M1154 646L1165 655H1179M1154 655L1165 660H1179M1154 663L1165 667H1179M1154 672L1165 673H1179M1154 682L1165 680H1179M1154 690L1165 686H1179M1154 699L1165 693H1179M1154 708L1165 700H1179M1154 717L1165 707H1179M1154 727L1165 714H1179M1154 735L1165 721H1179M1154 743L1165 727H1179M1154 752L1165 734H1179M1154 760L1165 740H1179M1154 768L1165 746H1179M1179 650L1189 623M1179 650L1189 628M1179 652L1189 633M1179 652L1189 638M1179 655L1189 643M1179 655L1189 648M1179 660L1189 653M1179 660L1189 658M1179 667L1189 663M1179 667L1189 668M1179 673L1189 673M1179 673L1189 678M1179 680L1189 683M1179 680L1189 688M1179 686L1189 693M1179 686L1189 698M1179 693L1189 703M1179 693L1189 708M1179 700L1189 713M1179 700L1189 718M1179 707L1189 723M1179 707L1189 728M1179 714L1189 733M1179 714L1189 738M1179 721L1189 743M1179 721L1189 748M1179 727L1189 753M1179 727L1189 758M1179 734L1189 763M1179 740L1189 768M1179 746L1189 773M1154 868H1179L1189 866M1179 868L1189 872M1154 932L1165 937H1179L1189 929M1154 938L1165 939H1179L1189 934M1179 939L1189 939M1154 944L1165 941H1179L1189 944M1154 949L1165 943H1179L1189 949"/>
<text class="lb le" transform="translate(1152 2) scale(1.35 1)"><tspan x="0" y="627">0.0</tspan><tspan x="0" y="637">3.1</tspan><tspan x="0" y="646">5.0</tspan><tspan x="0" y="655">7.2</tspan><tspan x="0" y="663">9.5</tspan><tspan x="0" y="672">11.8</tspan><tspan x="0" y="682">14.1</tspan><tspan x="0" y="690">16.0</tspan><tspan x="0" y="699">18.3</tspan><tspan x="0" y="708">20.4</tspan><tspan x="0" y="717">22.6</tspan><tspan x="0" y="727">24.5</tspan><tspan x="0" y="735">26.1</tspan><tspan x="0" y="743">28.3</tspan><tspan x="0" y="752">30.2</tspan><tspan x="0" y="760">32.4</tspan><tspan x="0" y="768">34.0</tspan><tspan x="0" y="868">0.0</tspan><tspan x="0" y="932">20.0</tspan><tspan x="0" y="938">21.2</tspan><tspan x="0" y="944">22.3</tspan><tspan x="0" y="949">24.6</tspan></text>
<text class="lb" transform="translate(1191 2) scale(1.35 1)"><tspan x="0" y="623">11_20464</tspan><tspan x="0" y="628">11_20373</tspan><tspan x="0" y="633">11_20375</tspan><tspan x="0" y="638">11_20723</tspan><tspan x="0" y="643">11_21048</tspan><tspan x="0" y="648">11_10984</tspan><tspan x="0" y="653">11_20971</tspan><tspan x="0" y="658">11_20819</tspan><tspan x="0" y="663">11_20783</tspan><tspan x="0" y="668">11_10516</tspan><tspan x="0" y="673">11_21149</tspan><tspan x="0" y="678">11_21408</tspan><tspan x="0" y="683">11_21163</tspan><tspan x="0" y="688">11_10521</tspan><tspan x="0" y="693">11_20667</tspan><tspan x="0" y="698">11_20306</tspan><tspan x="0" y="703">11_10859</tspan><tspan x="0" y="708">11_21445</tspan><tspan x="0" y="713">11_20562</tspan><tspan x="0" y="718">11_21232</tspan><tspan x="0" y="723">11_21478</tspan><tspan x="0" y="728">11_10610</tspan><tspan x="0" y="733">11_21113</tspan><tspan x="0" y="738">11_20750</tspan><tspan x="0" y="743">11_10431</tspan><tspan x="0" y="748">11_21360</tspan><tspan x="0" y="753">11_20195</tspan><tspan x="0" y="758">11_11073</tspan><tspan x="0" y="763">11_21207</tspan><tspan x="0" y="768">11_20952</tspan><tspan x="0" y="773">11_10386</tspan><tspan x="0" y="866">11_20407</tspan><tspan x="0" y="872">11_20862</tspan><tspan x="0" y="929">11_20859</tspan><tspan x="0" y="934">11_21107</tspan><tspan x="0" y="939">11_21258</tspan><tspan x="0" y="944">11_20487</tspan><tspan x="0" y="949">11_20534</tspan></text>
<text class="ab" x="1172" y="975">c</text>
</g>

<!-- 6H -->
<g id="chr-6H-a">
<rect class="chr" x="105" y="1068" width="11" height="472" rx="5.5"/>
<rect class="cen" x="105.5" y="1258" width="10" height="5"/>
<path class="tk" d="M92 1079H129M92 1113L100 1117H121L129 1113M92 1120L100 1118H121L129 1120M92 1149H129M92 1157H129M92 1180H129M92 1188H129M92 1212L100 1226H121L129 1212M92 1220L100 1227H121L129 1220M92 1228H129M92 1237L100 1229H121L129 1237M92 1267L100 1274H121L129 1267M92 1275H129M92 1283L100 1276H121L129 1283M92 1297H129M92 1315H129M92 1333H129M92 1353H129M92 1383H129M92 1394H129M92 1407H121L129 1402M121 1407L129 1411M92 1422H129M92 1438H129M92 1455H129M92 1484H129M92 1502L100 1504H121L129 1502M92 1507L100 1505H121L129 1507"/>
<text class="lb le" transform="translate(90 2) scale(1.35 1)"><tspan x="0" y="1079">0.0</tspan><tspan x="0" y="1113">13.3</tspan><tspan x="0" y="1120">15.6</tspan><tspan x="0" y="1149">25.4</tspan><tspan x="0" y="1157">28.4</tspan><tspan x="0" y="1180">31.7</tspan><tspan x="0" y="1188">33.7</tspan><tspan x="0" y="1212">42.4</tspan><tspan x="0" y="1220">43.3</tspan><tspan x="0" y="1228">43.9</tspan><tspan x="0" y="1237">46.7</tspan><tspan x="0" y="1267">60.2</tspan><tspan x="0" y="1275">62.8</tspan><tspan x="0" y="1283">63.6</tspan><tspan x="0" y="1297">65.3</tspan><tspan x="0" y="1315">70.2</tspan><tspan x="0" y="1333">75.3</tspan><tspan x="0" y="1353">81.2</tspan><tspan x="0" y="1383">89.6</tspan><tspan x="0" y="1394">92.7</tspan><tspan x="0" y="1407">97.4</tspan><tspan x="0" y="1422">101.4</tspan><tspan x="0" y="1438">106.6</tspan><tspan x="0" y="1455">113.3</tspan><tspan x="0" y="1484">118.2</tspan><tspan x="0" y="1502">122.6</tspan><tspan x="0" y="1507">124.5</tspan></text>
<text class="lb" transform="translate(132 2) scale(1.35 1)"><tspan x="0" y="1079">11_10833</tspan><tspan x="0" y="1113">11_10479</tspan><tspan x="0" y="1120">11_20479</tspan><tspan x="0" y="1149">11_10393</tspan><tspan x="0" y="1157">11_10868</tspan><tspan x="0" y="1180">11_10984</tspan><tspan x="0" y="1188">11_10323</tspan><tspan x="0" y="1212">11_10123</tspan><tspan x="0" y="1220">11_10483</tspan><tspan x="0" y="1228">11_10211</tspan><tspan x="0" y="1237">11_10329</tspan><tspan x="0" y="1267">11_11387</tspan><tspan x="0" y="1275">11_21323</tspan><tspan x="0" y="1283">11_20268</tspan><tspan x="0" y="1297">11_11681</tspan><tspan x="0" y="1315">11_20682</tspan><tspan x="0" y="1333">11_20393</tspan><tspan x="0" y="1353">11_11488</tspan><tspan x="0" y="1383">11_21033</tspan><tspan x="0" y="1394">11_20668</tspan><tspan x="0" y="1402">11_20113</tspan><tspan x="0" y="1411">11_20119</tspan><tspan x="0" y="1422">11_20321</tspan><tspan x="0" y="1438">11_20379</tspan><tspan x="0" y="1455">11_20328</tspan><tspan x="0" y="1484">11_10179</tspan><tspan x="0" y="1502">11_10743</tspan><tspan x="0" y="1507">11_20267</tspan></text>
<text class="ab" x="111" y="1559">a</text>
</g>
<g id="chr-6H-b">
<rect class="chr" x="313" y="1110" width="11" height="330" rx="5.5"/>
<path class="tk" d="M300 1113H337M300 1147H337M300 1152H337M300 1165H337M300 1170H337M300 1200L308 1208H329L337 1200M300 1208L308 1212H329L337 1208M300 1216L308 1217H329L337 1216M300 1224L308 1225H329L337 1224M300 1232L308 1231H329L337 1232M300 1240L308 1235H329L337 1240M300 1252L308 1262H329L337 1252M300 1260L308 1264H329L337 1260M300 1268L308 1266H329L337 1268M300 1276L308 1269H329L337 1276M300 1285L308 1272H329L337 1285M300 1294L308 1280H329L337 1294M300 1303L308 1290H329L337 1303M300 1311L308 1300H329L337 1311M300 1319L308 1310H329L337 1319M300 1327L308 1317H329L337 1327M300 1343H337M300 1353H337M300 1362H337M300 1373H337M300 1410H337M300 1423H337M300 1430H337"/>
<text class="lb le" transform="translate(298 2) scale(1.35 1)"><tspan x="0" y="1113">0.0</tspan><tspan x="0" y="1147">8.4</tspan><tspan x="0" y="1152">10.6</tspan><tspan x="0" y="1165">14.7</tspan><tspan x="0" y="1170">16.1</tspan><tspan x="0" y="1200">27.7</tspan><tspan x="0" y="1208">30.1</tspan><tspan x="0" y="1216">30.9</tspan><tspan x="0" y="1224">31.7</tspan><tspan x="0" y="1232">33.3</tspan><tspan x="0" y="1240">37.7</tspan><tspan x="0" y="1252">42.1</tspan><tspan x="0" y="1260">42.8</tspan><tspan x="0" y="1268">43.3</tspan><tspan x="0" y="1276">44.5</tspan><tspan x="0" y="1285">44.9</tspan><tspan x="0" y="1294">46.9</tspan><tspan x="0" y="1303">48.3</tspan><tspan x="0" y="1311">51.6</tspan><tspan x="0" y="1319">53.7</tspan><tspan x="0" y="1327">54.9</tspan><tspan x="0" y="1343">68.8</tspan><tspan x="0" y="1353">69.3</tspan><tspan x="0" y="1362">71.9</tspan><tspan x="0" y="1373">75.1</tspan><tspan x="0" y="1410">88.8</tspan><tspan x="0" y="1423">93.9</tspan><tspan x="0" y="1430">95.7</tspan></text>
<text class="lb" transform="translate(340 2) scale(1.35 1)"><tspan x="0" y="1113">11_10833</tspan><tspan x="0" y="1147">11_10479</tspan><tspan x="0" y="1152">11_20479</tspan><tspan x="0" y="1165">11_10393</tspan><tspan x="0" y="1170">11_10868</tspan><tspan x="0" y="1200">11_10984</tspan><tspan x="0" y="1208">11_10323</tspan><tspan x="0" y="1216">11_10123</tspan><tspan x="0" y="1224">11_10483</tspan><tspan x="0" y="1232">11_10211</tspan><tspan x="0" y="1240">11_10329</tspan><tspan x="0" y="1252">11_11387</tspan><tspan x="0" y="1260">11_21323</tspan><tspan x="0" y="1268">11_20268</tspan><tspan x="0" y="1276">11_11681</tspan><tspan x="0" y="1285">11_20682</tspan><tspan x="0" y="1294">11_20393</tspan><tspan x="0" y="1303">11_11488</tspan><tspan x="0" y="1311">11_21033</tspan><tspan x="0" y="1319">11_20668</tspan><tspan x="0" y="1327">11_20113</tspan><tspan x="0" y="1343">11_20119</tspan><tspan x="0" y="1353">11_20321</tspan><tspan x="0" y="1362">11_20379</tspan><tspan x="0" y="1373">11_20328</tspan><tspan x="0" y="1410">11_10179</tspan><tspan x="0" y="1423">11_10743</tspan><tspan x="0" y="1430">11_20267</tspan></text>
<text class="ab" x="319" y="1468">b</text>
</g>
<g id="chr-6H-c">
<rect class="chr" x="521" y="1198" width="10" height="167" rx="5"/>
<path class="tk" d="M508 1168L519 1205H533M508 1175L519 1207H533M508 1182L519 1209H533M508 1190L519 1211H533M508 1198L519 1213H533M508 1207L519 1216H533M508 1215L519 1222H533M508 1223L519 1228H533M508 1245H533M508 1268H533M508 1287L519 1285H533M508 1295L519 1292H533M508 1302L519 1300H533M508 1310L519 1308H533M508 1318L519 1316H533M508 1332L519 1326H533M508 1343L519 1336H533M508 1358L519 1348H533M508 1370L519 1356H533M508 1382L519 1360H533M508 1393L519 1362H533M533 1205L543 1168M533 1205L543 1173.7M533 1207L543 1179.4M533 1207L543 1185.1M533 1209L543 1190.8M533 1209L543 1196.5M533 1211L543 1202.2M533 1211L543 1207.9M533 1213L543 1213.6M533 1213L543 1219.3M533 1216L543 1225M533 1216L543 1230.7M533 1222L543 1236.4M533 1222L543 1242.1M533 1228L543 1247.8M533 1228L543 1253.5M533 1245L543 1259.2M533 1245L543 1264.9M533 1268L543 1270.6M533 1268L543 1276.3M533 1285L543 1282M533 1285L543 1287.7M533 1292L543 1293.4M533 1292L543 1299.1M533 1300L543 1304.8M533 1300L543 1310.5M533 1308L543 1316.2M533 1308L543 1321.9M533 1316L543 1327.6M533 1316L543 1333.3M533 1326L543 1339M533 1326L543 1344.7M533 1336L543 1350.4M533 1336L543 1356.1M533 1348L543 1361.8M533 1348L543 1367.5M533 1356L543 1373.2M533 1356L543 1378.9M533 1360L543 1384.6M533 1360L543 1390.3M533 1362L543 1396"/>
<text class="lb le" transform="translate(506 2) scale(1.35 1)"><tspan x="0" y="1168">0.0</tspan><tspan x="0" y="1175">1.2</tspan><tspan x="0" y="1182">3.7</tspan><tspan x="0" y="1190">7.3</tspan><tspan x="0" y="1198">9.6</tspan><tspan x="0" y="1207">11.3</tspan><tspan x="0" y="1215">13.6</tspan><tspan x="0" y="1223">16.0</tspan><tspan x="0" y="1245">19.4</tspan><tspan x="0" y="1268">24.3</tspan><tspan x="0" y="1287">28.3</tspan><tspan x="0" y="1295">30.8</tspan><tspan x="0" y="1302">31.6</tspan><tspan x="0" y="1310">33.5</tspan><tspan x="0" y="1318">35.6</tspan><tspan x="0" y="1332">39.3</tspan><tspan x="0" y="1343">42.8</tspan><tspan x="0" y="1358">44.2</tspan><tspan x="0" y="1370">46.9</tspan><tspan x="0" y="1382">49.1</tspan><tspan x="0" y="1393">49.9</tspan></text>
<text class="lb" transform="translate(545 2) scale(1.35 1)"><tspan x="0" y="1168">11_10833</tspan><tspan x="0" y="1173.7">11_10479</tspan><tspan x="0" y="1179.4">11_20479</tspan><tspan x="0" y="1185.1">11_10393</tspan><tspan x="0" y="1190.8">11_10868</tspan><tspan x="0" y="1196.5">11_10984</tspan><tspan x="0" y="1202.2">11_10323</tspan><tspan x="0" y="1207.9">11_10123</tspan><tspan x="0" y="1213.6">11_10483</tspan><tspan x="0" y="1219.3">11_10211</tspan><tspan x="0" y="1225">11_10329</tspan><tspan x="0" y="1230.7">11_21517</tspan><tspan x="0" y="1236.4">11_11387</tspan><tspan x="0" y="1242.1">11_21323</tspan><tspan x="0" y="1247.8">11_20268</tspan><tspan x="0" y="1253.5">11_11681</tspan><tspan x="0" y="1259.2">11_20682</tspan><tspan x="0" y="1264.9">11_10287</tspan><tspan x="0" y="1270.6">11_20393</tspan><tspan x="0" y="1276.3">11_11488</tspan><tspan x="0" y="1282">11_21033</tspan><tspan x="0" y="1287.7">11_20668</tspan><tspan x="0" y="1293.4">11_20113</tspan><tspan x="0" y="1299.1">11_20119</tspan><tspan x="0" y="1304.8">11_20321</tspan><tspan x="0" y="1310.5">11_20379</tspan><tspan x="0" y="1316.2">11_20328</tspan><tspan x="0" y="1321.9">11_20358</tspan><tspan x="0" y="1327.6">11_21294</tspan><tspan x="0" y="1333.3">11_10745</tspan><tspan x="0" y="1339">11_20516</tspan><tspan x="0" y="1344.7">11_11402</tspan><tspan x="0" y="1350.4">11_20837</tspan><tspan x="0" y="1356.1">11_10179</tspan><tspan x="0" y="1361.8">11_10743</tspan><tspan x="0" y="1367.5">11_20267</tspan><tspan x="0" y="1373.2">11_21169</tspan><tspan x="0" y="1378.9">11_10528</tspan><tspan x="0" y="1384.6">11_20941</tspan><tspan x="0" y="1390.3">11_11276</tspan><tspan x="0" y="1396">11_20387</tspan></text>
<text class="ab" x="526" y="1429">c</text>
</g>

<!-- 7H -->
<g id="chr-7H-a">
<rect class="chr" x="751" y="1093" width="11" height="437" rx="5.5"/>
<rect class="cen" x="751.5" y="1299" width="10" height="5"/>
<path class="tk" d="M738 1175H775M738 1188H775M738 1202H775M738 1235H775M738 1255H775M738 1326H775M738 1413H775M738 1434H775M738 1443H775M738 1459L746 1462H767L775 1459M738 1464H775M738 1470L746 1467H767L775 1470"/>
<text class="lb le" transform="translate(736 2) scale(1.35 1)"><tspan x="0" y="1175">23.6</tspan><tspan x="0" y="1188">31.8</tspan><tspan x="0" y="1202">40.5</tspan><tspan x="0" y="1235">54.5</tspan><tspan x="0" y="1255">60.7</tspan><tspan x="0" y="1326">88.6</tspan><tspan x="0" y="1413">130.1</tspan><tspan x="0" y="1434">138.9</tspan><tspan x="0" y="1443">143.8</tspan><tspan x="0" y="1459">149.9</tspan><tspan x="0" y="1464">152.0</tspan><tspan x="0" y="1470">153.8</tspan></text>
<text class="lb" transform="translate(778 2) scale(1.35 1)"><tspan x="0" y="1175">11_10860</tspan><tspan x="0" y="1188">11_20103</tspan><tspan x="0" y="1202">11_10883</tspan><tspan x="0" y="1235">11_20616</tspan><tspan x="0" y="1255">11_11111</tspan><tspan x="0" y="1326">11_10116</tspan><tspan x="0" y="1413">11_11313</tspan><tspan x="0" y="1434">11_21353</tspan><tspan x="0" y="1443">11_10881</tspan><tspan x="0" y="1459">11_20627</tspan><tspan x="0" y="1464">11_10887</tspan><tspan x="0" y="1470">11_11103</tspan></text>
<text class="ab" x="757" y="1559">a</text>
</g>
<g id="chr-7H-b">
<rect class="chr" x="959" y="1205" width="11" height="240" rx="5.5"/>
<path class="tk" d="M946 1207H983M946 1215H983M946 1233H983M946 1257H983M946 1270H983M946 1302H983M946 1385H983M946 1399H983M946 1409H983M946 1436L954 1440H975L983 1436M946 1441H983M946 1446L954 1442H975L983 1446"/>
<text class="lb le" transform="translate(944 2) scale(1.35 1)"><tspan x="0" y="1207">0.0</tspan><tspan x="0" y="1215">3.1</tspan><tspan x="0" y="1233">10.9</tspan><tspan x="0" y="1257">18.8</tspan><tspan x="0" y="1270">23.0</tspan><tspan x="0" y="1302">39.8</tspan><tspan x="0" y="1385">66.2</tspan><tspan x="0" y="1399">71.6</tspan><tspan x="0" y="1409">75.3</tspan><tspan x="0" y="1436">87.8</tspan><tspan x="0" y="1441">88.0</tspan><tspan x="0" y="1446">88.9</tspan></text>
<text class="lb" transform="translate(986 2) scale(1.35 1)"><tspan x="0" y="1207">11_10860</tspan><tspan x="0" y="1215">11_20103</tspan><tspan x="0" y="1233">11_10883</tspan><tspan x="0" y="1257">11_20616</tspan><tspan x="0" y="1270">11_11111</tspan><tspan x="0" y="1302">11_10116</tspan><tspan x="0" y="1385">11_11313</tspan><tspan x="0" y="1399">11_21353</tspan><tspan x="0" y="1409">11_10881</tspan><tspan x="0" y="1436">11_20627</tspan><tspan x="0" y="1441">11_10887</tspan><tspan x="0" y="1446">11_11103</tspan></text>
<text class="ab" x="965" y="1478">b</text>
</g>
<g id="chr-7H-c">
<rect class="chr" x="1167" y="1255" width="10" height="95" rx="5"/>
<path class="tk" d="M1154 1258H1189M1154 1264H1189M1154 1271H1189M1154 1285H1189M1154 1292H1189M1154 1298H1189M1154 1320L1165 1322H1179L1189 1320M1154 1325L1165 1327H1179L1189 1325M1154 1330H1189M1154 1337L1165 1336H1179L1189 1336M1179 1336L1189 1341M1154 1344L1165 1343H1179L1189 1347"/>
<text class="lb le" transform="translate(1152 2) scale(1.35 1)"><tspan x="0" y="1258">0.0</tspan><tspan x="0" y="1264">2.3</tspan><tspan x="0" y="1271">4.9</tspan><tspan x="0" y="1285">10.5</tspan><tspan x="0" y="1292">13.6</tspan><tspan x="0" y="1298">16.1</tspan><tspan x="0" y="1320">28.5</tspan><tspan x="0" y="1325">30.2</tspan><tspan x="0" y="1330">32.9</tspan><tspan x="0" y="1337">35.1</tspan><tspan x="0" y="1344">37.3</tspan></text>
<text class="lb" transform="translate(1191 2) scale(1.35 1)"><tspan x="0" y="1258">11_10860</tspan><tspan x="0" y="1264">11_20103</tspan><tspan x="0" y="1271">11_10883</tspan><tspan x="0" y="1285">11_20616</tspan><tspan x="0" y="1292">11_11111</tspan><tspan x="0" y="1298">11_10116</tspan><tspan x="0" y="1320">11_11313</tspan><tspan x="0" y="1325">11_21353</tspan><tspan x="0" y="1330">11_10881</tspan><tspan x="0" y="1336">11_20627</tspan><tspan x="0" y="1341">11_10887</tspan><tspan x="0" y="1347">11_11103</tspan></text>
<text class="ab" x="1173" y="1408">c</text>
</g>
</svg>
